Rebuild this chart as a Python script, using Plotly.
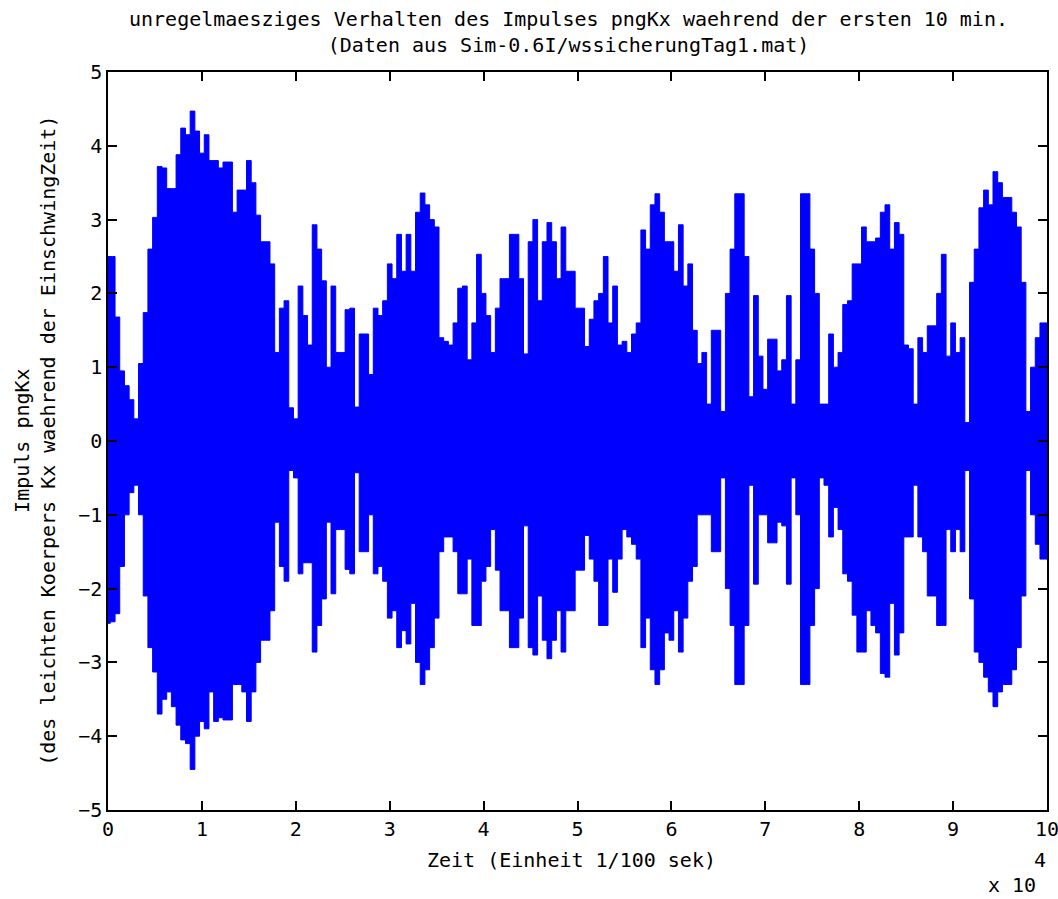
import plotly.graph_objects as go

# sample times in 1/100 s (one envelope reading every 500 units)
zeit = list(range(0, 100001, 500))

# upper envelope of the oscillating impulse
oben = [
    2.5, 2.5, 1.68, 0.95, 0.75, 0.56, 0.3, 1.05, 1.74, 2.6,
    3.03, 3.72, 3.7, 3.42, 3.42, 3.88, 4.24, 4.15, 4.47, 4.2,
    3.9, 4.15, 3.8, 3.8, 3.7, 3.78, 3.78, 3.1, 3.4, 3.4,
    3.8, 3.5, 3.06, 2.7, 2.7, 2.4, 1.2, 1.8, 1.9, 0.45,
    0.3, 2.1, 1.7, 1.3, 2.93, 2.6, 2.17, 1.0, 2.1, 1.2,
    1.2, 1.78, 1.8, 0.46, 1.45, 1.45, 0.9, 1.8, 1.7, 1.9,
    2.4, 2.2, 2.8, 2.3, 2.8, 2.3, 3.1, 3.36, 3.2, 3.0,
    2.9, 1.4, 1.35, 1.3, 1.6, 2.07, 2.1, 1.1, 1.6, 2.53,
    2.0, 1.7, 1.2, 1.8, 2.2, 2.2, 2.8, 2.8, 2.2, 1.18,
    2.7, 3.0, 1.9, 2.7, 2.96, 2.7, 2.2, 2.9, 2.3, 2.3,
    1.8, 1.8, 1.28, 1.65, 1.9, 2.0, 2.5, 1.6, 2.1, 1.3,
    1.35, 1.2, 1.45, 1.6, 2.86, 2.6, 3.2, 3.35, 3.1, 2.7,
    2.7, 2.3, 2.93, 2.1, 2.4, 1.5, 1.05, 1.2, 0.5, 1.5,
    1.5, 0.4, 2.0, 2.6, 3.35, 3.35, 2.5, 0.6, 1.97, 1.15,
    0.7, 1.38, 1.38, 0.95, 1.1, 1.97, 0.5, 1.1, 3.35, 3.35,
    2.6, 2.0, 0.5, 0.5, 1.45, 1.0, 1.2, 1.85, 1.9, 2.4,
    2.4, 2.9, 2.7, 2.7, 2.75, 3.1, 3.2, 2.6, 2.96, 2.8,
    1.3, 1.25, 0.5, 1.4, 1.2, 1.56, 1.56, 2.0, 2.53, 1.15,
    1.6, 1.2, 1.4, 0.25, 2.15, 2.6, 3.16, 3.4, 3.2, 3.65,
    3.5, 3.3, 3.3, 3.1, 2.9, 2.15, 0.4, 1.0, 1.4, 1.6,
    1.6,
]

# lower envelope
unten = [
    -2.47, -2.45, -2.34, -1.7, -1.0, -0.7, -0.6, -1.0, -2.1, -2.8,
    -3.13, -3.7, -3.5, -3.4, -3.6, -3.85, -4.05, -4.1, -4.45, -4.0,
    -3.8, -3.9, -3.4, -3.8, -3.75, -3.78, -3.78, -3.3, -3.3, -3.4,
    -3.8, -3.4, -3.0, -2.7, -2.7, -2.3, -1.1, -1.7, -1.9, -0.4,
    -0.5, -1.8, -1.65, -1.65, -2.86, -2.5, -2.14, -1.1, -2.07, -1.2,
    -1.2, -1.74, -1.8, -0.43, -1.5, -1.5, -1.0, -1.8, -1.7, -1.9,
    -2.4, -2.3, -2.8, -2.57, -2.75, -2.2, -3.0, -3.3, -3.1, -2.8,
    -2.4, -1.5, -1.3, -1.3, -1.5, -2.07, -2.07, -1.6, -2.5, -2.5,
    -1.9, -1.7, -1.2, -1.75, -2.3, -2.3, -2.8, -2.8, -2.4, -1.15,
    -2.8, -2.9, -2.1, -2.7, -2.95, -2.7, -2.3, -2.86, -2.3, -2.3,
    -1.75, -1.75, -1.28, -1.6, -1.9, -2.5, -2.5, -1.6, -2.05, -1.6,
    -1.2, -1.3, -1.4, -1.6, -2.8, -2.4, -3.1, -3.3, -3.1, -2.6,
    -2.7, -2.3, -2.86, -2.4, -1.9, -1.7, -1.0, -1.0, -1.0, -1.5,
    -1.5, -0.5, -2.0, -2.5, -3.3, -3.3, -2.5, -0.6, -1.94, -1.0,
    -1.0, -1.38, -1.38, -1.1, -1.15, -1.94, -0.5, -1.0, -3.3, -3.3,
    -2.5, -2.0, -0.5, -0.6, -1.3, -0.9, -1.2, -1.8, -1.9, -2.36,
    -2.86, -2.86, -2.3, -2.5, -2.6, -3.15, -3.2, -2.2, -2.9, -2.6,
    -1.3, -1.3, -0.6, -1.3, -1.5, -2.1, -2.1, -2.5, -2.5, -1.2,
    -1.5, -1.2, -1.5, -0.4, -2.14, -2.86, -3.0, -3.2, -3.4, -3.6,
    -3.4, -3.3, -3.3, -3.1, -2.8, -2.1, -0.4, -1.0, -1.4, -1.6,
    -1.6,
]

x_tickvals = [0, 10000, 20000, 30000, 40000, 50000, 60000, 70000, 80000, 90000, 100000]
x_ticktext = ["0", "1", "2", "3", "4", "5", "6", "7", "8", "9", "10"]
y_tickvals = [-5, -4, -3, -2, -1, 0, 1, 2, 3, 4, 5]

FONT = "DejaVu Sans Mono"
BLUE = "#0000ff"

fig = go.Figure()
fig.add_trace(go.Scatter(
    x=zeit, y=oben, mode="lines",
    line=dict(color=BLUE, width=1, shape="hvh"),
    hoverinfo="skip", showlegend=False,
))
fig.add_trace(go.Scatter(
    x=zeit, y=unten, mode="lines",
    line=dict(color=BLUE, width=1, shape="hvh"),
    fill="tonexty", fillcolor=BLUE,
    hoverinfo="skip", showlegend=False,
))

axis_common = dict(
    showline=True, linecolor="black", linewidth=1.5, mirror="ticks",
    ticks="inside", ticklen=9, tickwidth=1.5, tickcolor="black",
    showgrid=False, zeroline=False, automargin=False,
    ticklabeloverflow="allow",
    tickfont=dict(family=FONT, size=20, color="black"),
)

fig.update_layout(
    width=1058, height=899,
    margin=dict(l=108, r=11, t=72, b=89),
    paper_bgcolor="white", plot_bgcolor="white",
    font=dict(family=FONT, size=20, color="black"),
    xaxis=dict(range=[0, 100000], tickmode="array", tickvals=x_tickvals,
               ticktext=x_ticktext, **axis_common),
    yaxis=dict(range=[-5, 5], tickmode="array", tickvals=y_tickvals,
               **axis_common),
    annotations=[
        dict(text="unregelmaesziges Verhalten des Impulses pngKx waehrend der ersten 10 min.<br>(Daten aus Sim-0.6I/wssicherungTag1.mat)",
             xref="paper", yref="paper", x=0.49, y=1.054, xanchor="center", yanchor="middle",
             showarrow=False, font=dict(family=FONT, size=20, color="black")),
        dict(text="Zeit (Einheit 1/100 sek)",
             xref="paper", yref="paper", x=0.494, y=-0.068, xanchor="center", yanchor="middle",
             showarrow=False, font=dict(family=FONT, size=20, color="black")),
        dict(text="Impuls pngKx<br>(des leichten Koerpers Kx waehrend der EinschwingZeit)",
             xref="paper", yref="paper", x=-0.078, y=0.5, xanchor="center", yanchor="middle",
             textangle=-90, showarrow=False, font=dict(family=FONT, size=20, color="black")),
        dict(text="4", xref="paper", yref="paper", x=0.9925, y=-0.068,
             xanchor="center", yanchor="middle", showarrow=False,
             font=dict(family=FONT, size=20, color="black")),
        dict(text="x 10", xref="paper", yref="paper", x=0.963, y=-0.102,
             xanchor="center", yanchor="middle", showarrow=False,
             font=dict(family=FONT, size=20, color="black")),
    ],
)

fig.write_html("out.html")
